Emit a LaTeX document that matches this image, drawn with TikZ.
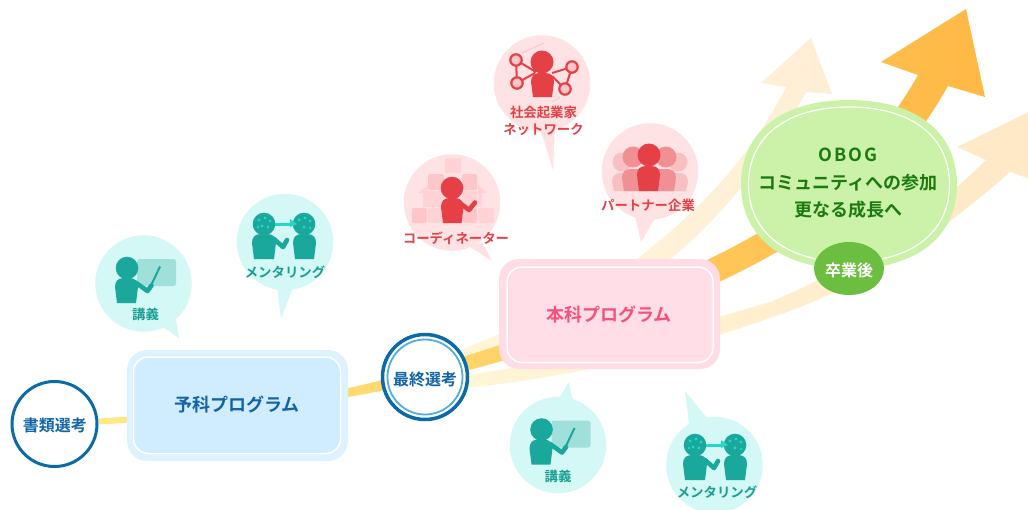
\documentclass[tikz,border=0pt]{standalone}
\usepackage{fontspec}
\setmainfont{Noto Sans CJK JP}[BoldFont={Noto Sans CJK JP Bold}]
\usetikzlibrary{arrows.meta,shapes.geometric}
\definecolor{teal1}{HTML}{1AA89C}
\definecolor{teal2}{HTML}{A0E0DA}
\definecolor{teal3}{HTML}{22D8C8}
\definecolor{tealbg}{HTML}{D4F8F6}
\definecolor{tealtx}{HTML}{1A9E92}
\definecolor{red1}{HTML}{E44045}
\definecolor{red2}{HTML}{F09095}
\definecolor{red3}{HTML}{F8C0C2}
\definecolor{red4}{HTML}{FFC6CA}
\definecolor{red5}{HTML}{FFD2D5}
\definecolor{redbg}{HTML}{FFE2E4}
\definecolor{blueln}{HTML}{0B6AA8}
\definecolor{bluetx}{HTML}{1264A6}
\definecolor{bluelt}{HTML}{55ABE2}
\definecolor{boxb}{HTML}{D0ECFF}
\definecolor{boxbo}{HTML}{DDF1FF}
\definecolor{boxp}{HTML}{FFDEE8}
\definecolor{boxpo}{HTML}{FFDCE6}
\definecolor{pinktx}{HTML}{F8507A}
\definecolor{greenbg}{HTML}{CBF2A8}
\definecolor{greentx}{HTML}{1C7A10}
\definecolor{greendk}{HTML}{6CBE41}
\definecolor{palea}{HTML}{FFF7D8}
\definecolor{paleb}{HTML}{FFF2D6}
\definecolor{palec}{HTML}{FFEED6}
\definecolor{paled}{HTML}{FFE8C6}
\tikzset{
  x=1pt,y=-1pt,
  bubbleT/.style={circle,fill=tealbg,minimum size=96.5pt,inner sep=0pt},
  bubbleR/.style={circle,fill=redbg,minimum size=96.5pt,inner sep=0pt},
  tealtx/.style={font=\bfseries\fontsize{13.4}{17}\selectfont,text=tealtx,inner sep=0pt,align=center},
  redtx/.style={font=\bfseries\fontsize{13.4}{17}\selectfont,text=red1,inner sep=0pt,align=center},
  bluebox/.style={rectangle,fill=boxbo,rounded corners=20pt,minimum width=221pt,minimum height=111pt,inner sep=0pt},
  pinkbox/.style={rectangle,fill=boxpo,rounded corners=20pt,minimum width=221pt,minimum height=110pt,inner sep=0pt},
  boxtx/.style={font=\bfseries\fontsize{18}{20}\selectfont,inner sep=0pt},
  stagetx/.style={font=\bfseries\fontsize{16}{18}\selectfont,text=bluetx,inner sep=0pt},
  stage/.style={circle,draw=blueln,fill=white,line width=3pt,minimum size=85pt,inner sep=0pt},
  gradua/.style={ellipse,fill=greendk,minimum width=70pt,minimum height=53pt,inner sep=0pt},
}
\newcommand{\pbody}[4]{% x1 x2 ytop ybot
  (#1+2,#4) -- (#1,#3+9) .. controls (#1,#3+3) and (#1+3,#3) .. (#1+9,#3)
  -- (#2-9,#3) .. controls (#2-3,#3) and (#2,#3+3) .. (#2,#3+9) -- (#2-2,#4) -- cycle}
\newcommand{\lectureicon}[2]{%
  \begin{scope}[shift={(#1,#2)}]
    \fill[teal2,rounded corners=2.5pt] (-6.5,-24.5) rectangle (32.5,2.5);
    \fill[teal1] (-16.5,-15.5) circle (11.3);
    \fill[teal1] \pbody{-28.5}{-5.5}{-5.5}{19.5};
    \draw[teal1,line width=4.6pt,line cap=round,line join=round] (-8,-1) -- (4,7.5) -- (8,2);
    \draw[teal1,line width=2pt] (8,1) -- (16.5,-17);
  \end{scope}}
\newcommand{\mentoricon}[2]{%
  \begin{scope}[shift={(#1,#2)}]
    \fill[teal1] (0,0) circle (11.3) (40,0) circle (11.3);
    \fill[teal1] \pbody{-12}{12}{10}{35};
    \fill[teal1] \pbody{29}{52}{10}{35};
    \draw[teal1,line width=4.6pt,line cap=round,line join=round] (10,15) -- (19,23) -- (23,16);
    \fill[teal3] (-5,-4) circle (1.6) (1,-6) circle (1.6) (6,-3) circle (1.6) (-2,2) circle (1.6) (4,3) circle (1.6) (-6,3) circle (1.4);
    \fill[teal3] (35,-4) circle (1.6) (41,-6) circle (1.6) (46,-3) circle (1.6) (40,3) circle (1.6) (46,4) circle (1.4);
    \fill[teal3] (11,-1.5) rectangle (28,1.5);
    \fill[teal3] (26,-5) -- (33,0) -- (26,3) -- cycle;
  \end{scope}}
\newcommand{\gblob}[2]{% rx ry around origin
  (-#1,0) .. controls (-#1,-0.62*#2) and (-0.62*#1,-#2) .. (0,-#2)
  .. controls (0.62*#1,-#2) and (#1,-0.62*#2) .. (#1,0)
  .. controls (#1,0.62*#2) and (0.62*#1,#2) .. (0,#2)
  .. controls (-0.62*#1,#2) and (-#1,0.62*#2) .. (-#1,0) -- cycle}
\begin{document}
\begin{tikzpicture}
\useasboundingbox (0,0) rectangle (1028,509);
\begin{scope}
\clip (0,0) rectangle (1028,509);

% pale upper arrow
\shade[left color=palea,right color=palec]
  (425,365) .. controls (520,325) and (600,295) .. (637,259)
  .. controls (680,225) and (745,170) .. (786,87)
  -- (761,83) -- (811,38) -- (832,94) -- (806,92)
  .. controls (775,150) and (720,220) .. (670,259)
  .. controls (610,305) and (520,340) .. (425,378) -- cycle;
% pale lower arrow
\shade[left color=palea,middle color=paleb,right color=paled]
  (425,380) .. controls (560,365) and (640,340) .. (770,302)
  .. controls (860,265) and (930,215) .. (986,160)
  -- (957,147) -- (1045,104) -- (1045,184) -- (1010,172)
  .. controls (950,225) and (870,285) .. (770,318)
  .. controls (650,360) and (560,380) .. (425,392) -- cycle;
% main arrow
\shade[left color={rgb,255:red,255;green,232;blue,130},middle color={rgb,255:red,255;green,200;blue,82},right color={rgb,255:red,255;green,184;blue,69}]
  (99,418.5) .. controls (200,412) and (300,402) .. (348,388)
  .. controls (400,378) and (600,320) .. (711,258)
  .. controls (800,215) and (870,160) .. (918,75)
  -- (881,62) -- (966,9) -- (985,97) -- (948,86)
  .. controls (900,170) and (840,225) .. (775,253)
  .. controls (650,325) and (450,380) .. (348,397)
  .. controls (300,410) and (200,418) .. (99,424.5) -- cycle;

% stage circles
\node[stage] (s1) at (54.5,424) {};
\node[stagetx] (s1t) at (55,425) {書類選考};
\node[stage,line width=3.5pt] (s2) at (425,377) {};
\draw[bluelt,line width=1.8pt] (s2.center) circle (37.5);
\node[stagetx] (s2t) at (425,379) {最終選考};

% program boxes
\node[bluebox] (yoka) at (237.5,405.5) {};
\fill[boxb,draw=white,line width=1.5pt,rounded corners=15pt] (133.5,357) rectangle (340.5,453.5);
\node[boxtx,text=bluetx] (yokat) at (237,405) {予科プログラム};
\node[pinkbox] (honka) at (609.5,314) {};
\fill[boxp,draw=white,line width=1.5pt,rounded corners=15pt] (507,267) rectangle (713,362.5);
\node[boxtx,text=pinktx] (honkat) at (609,315) {本科プログラム};

% green blob
\begin{scope}[shift={(849,184.5)}]
  \fill[greenbg] \gblob{108}{84.5};
  \draw[white,line width=1.2pt] \gblob{100.5}{77.5};
\end{scope}
\node[font=\bfseries\fontsize{18}{27.5}\selectfont,text=greentx,align=center,inner sep=0pt] (ob) at (848,183.5) {{\addfontfeature{LetterSpace=11}OBOG}\\コミュニティへの参加\\更なる成長へ};
\node[gradua] (sotsu) at (849,268.5) {};
\node[font=\bfseries\fontsize{16}{18}\selectfont,text=white,inner sep=0pt] (sotsut) at (849,270) {卒業後};

% teal bubbles
\node[bubbleT] (lec1) at (143.5,283.5) {};
\fill[tealbg] (163,327) -- (179,338) -- (176,320) -- cycle;
\lectureicon{143.5}{283.5}
\node[tealtx] (lec1t) at (145.5,314.5) {講義};

\node[bubbleT] (men1) at (285,242) {};
\fill[tealbg] (277,287) -- (281,319) -- (293,287) -- cycle;
\mentoricon{264}{224}
\node[tealtx] (men1t) at (285,272) {メンタリング};

\node[bubbleT] (lec2) at (558,445) {};
\fill[tealbg] (559,398) -- (569,382) -- (573,401) -- cycle;
\lectureicon{558}{445}
\node[tealtx] (lec2t) at (558,476.5) {講義};

\node[bubbleT] (men2) at (714.5,465) {};
\fill[tealbg] (689,424) -- (685,391) -- (707,418) -- cycle;
\mentoricon{695}{445}
\node[tealtx] (men2t) at (717,492) {メンタリング};

% coordinator bubble
\node[bubbleR] (coo) at (452,202.5) {};
\fill[redbg] (470,247) -- (492,261) -- (482,242) -- cycle;
\begin{scope}[rounded corners=2pt]
\fill[red5] (445,158) rectangle (461,173);
\fill[red4] (428,174) rectangle (444,190);
\fill[red4] (462,174) rectangle (477,190);
\fill[red5] (428,191) rectangle (444,207);
\fill[red5] (462,191) rectangle (477,207);
\fill[red4] (412,208) rectangle (427,223);
\fill[red4] (462,208) rectangle (477,223);
\fill[red5] (428,208) rectangle (444,223);
\fill[red5] (478,208) rectangle (494,223);
\end{scope}
\fill[red5] (418,193) -- (428,185) -- (428,207) -- (423,207) -- (423,193) -- cycle;
\fill[red5] (487,193) -- (478,185) -- (478,207) -- (482,207) -- (482,193) -- cycle;
\fill[red1] (452,188) circle (11.3);
\fill[red1] \pbody{441}{463.5}{198}{223};
\draw[red1,line width=4.6pt,line cap=round,line join=round] (460,203) -- (469,210) -- (475,202.5);
\node[redtx] (coot) at (456,238) {コーディネーター};

% network bubble
\node[bubbleR] (net) at (542,83.5) {};
\fill[redbg] (540,128) -- (553,170) -- (555,128) -- cycle;
\draw[red4,line width=1pt] (522,53) -- (544,43) (552,102) -- (560,97);
\draw[red1,line width=2pt] (516,60) -- (536,72) (516,60) -- (517,83) -- (535,73) (572,67) -- (552,73) (572,67) -- (565,89) -- (552,76);
\fill[red1] (542,62) circle (11.5);
\fill[red1] \pbody{531}{554}{73}{97};
\foreach \p in {(516,60),(517,83),(572,67),(565,89)} \filldraw[fill=red4,draw=red1,line width=2.2pt] \p circle (5.7);
\node[redtx] (nett) at (543.5,120.5) {社会起業家\\ネットワーク};

% partner bubble
\node[bubbleR] (par) at (650,171.5) {};
\fill[redbg] (635,216) -- (641,242) -- (655,218) -- cycle;
\fill[red3] (622,162) circle (9.5) (678,162) circle (9.5);
\fill[red3] \pbody{612}{640}{173}{191};
\fill[red3] \pbody{660}{688}{173}{191};
\fill[red2] (633,157) circle (10.5) (666,157) circle (10.5);
\fill[red2] \pbody{622}{648}{169}{191};
\fill[red2] \pbody{650}{676}{169}{191};
\fill[red1] (649,155) circle (11.5);
\fill[red1] \pbody{637}{660}{166}{191};
\node[redtx] (part) at (648,205) {パートナー企業};
\end{scope}
\end{tikzpicture}
\end{document}
